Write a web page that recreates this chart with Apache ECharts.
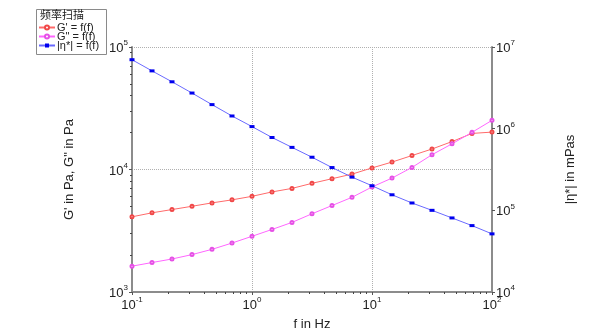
<!DOCTYPE html>
<html>
<head>
<meta charset="utf-8">
<script src="https://cdn.jsdelivr.net/npm/echarts@6/dist/echarts.min.js"></script>
<style>
  html, body { margin: 0; padding: 0; background: #fff; }
  #chart { width: 608px; height: 336px; }
</style>
</head>
<body>
<div id="chart"></div>
<script>
// frequency sweep data
const freq = [0.1, 0.1468, 0.2154, 0.3162, 0.4642, 0.6813, 1, 1.468, 2.154, 3.162,
  4.642, 6.813, 10, 14.68, 21.54, 31.62, 46.42, 68.13, 100];
const gPrime = [4110, 4430, 4710, 5010, 5340, 5650, 6040, 6560, 7010, 7710,
  8410, 9170, 10300, 11500, 13000, 14700, 16900, 19700, 20200];
const gDouble = [1625, 1740, 1860, 2020, 2230, 2510, 2850, 3240, 3700, 4350,
  5080, 5930, 7200, 8510, 10400, 13200, 16200, 20100, 25200];
const etaStar = [6.99e6, 5.1e6, 3.75e6, 2.73e6, 1.97e6, 1.43e6, 1.06e6, 7.8e5, 5.9e5, 4.47e5,
  3.34e5, 2.55e5, 2.0e5, 1.55e5, 1.23e5, 1.0e5, 8.07e4, 6.5e4, 5.15e4];

const seriesNames = ["G' = f(f)", 'G" = f(f)', "|η*| = f(f)"];
const legendTitle = "频率扫描";
const xName = "f in Hz";
const yLeftName = 'G\' in Pa, G" in Pa';
const yRightName = "|η*| in mPas";

// minor tick positions (2..9 of each decade)
const xMinor = [0.2, 0.3, 0.4, 0.5, 0.6, 0.7, 0.8, 0.9, 2, 3, 4, 5, 6, 7, 8, 9, 20, 30, 40, 50, 60, 70, 80, 90];
const yMinor = [2000, 3000, 4000, 5000, 6000, 7000, 8000, 9000, 20000, 30000, 40000, 50000, 60000, 70000, 80000, 90000];

const FONT = "Liberation Sans";

const pairs = (ys) => freq.map((f, i) => [f, ys[i]]);

// 10^n style labels
const powLabel = (v) => {
  const e = Math.round(Math.log10(v));
  return "{b|10}{s|" + e + "}";
};
const powRich = {
  b: { fontSize: 13, color: "#222", fontFamily: FONT, verticalAlign: "bottom", lineHeight: 16 },
  s: { fontSize: 8, color: "#222", fontFamily: FONT, verticalAlign: "top", lineHeight: 16 },
};

const axisGray = "#8c8c8c";
const gridLine = { show: true, lineStyle: { color: "#b0b0b0", type: "dotted", width: 1 } };

// hidden linear axes in log10 units, only used to place the minor ticks
const minorAxis = (pos, min, max, values) => ({
  type: "value", min: min, max: max, position: pos,
  axisLine: { show: false, onZero: false },
  axisTick: { show: true, length: 2, customValues: values.map(Math.log10), lineStyle: { color: "#444" } },
  axisLabel: { show: false },
  splitLine: { show: false },
});

const chart = echarts.init(document.getElementById("chart"), null, { renderer: "canvas" });

chart.setOption({
  animation: false,
  grid: { left: 132, right: 116, top: 47, bottom: 42 },
  graphic: [
    {
      type: "rect",
      shape: { x: 36.5, y: 9.5, width: 70, height: 45 },
      style: { fill: "#fff", stroke: "#8a8a8a", lineWidth: 1 },
      z: 5,
    },
    {
      type: "text",
      x: 40, y: 9,
      style: { text: legendTitle, fontSize: 11, fontFamily: "Noto Sans CJK SC", fill: "#222" },
      z: 6,
    },
  ],
  legend: {
    orient: "vertical",
    left: 38, top: 22,
    padding: 0,
    itemWidth: 16, itemHeight: 5, itemGap: -2,
    z: 10,
    textStyle: { fontSize: 11, fontFamily: FONT, color: "#222", padding: [0, 0, 0, -3] },
    data: seriesNames,
  },
  xAxis: [
    {
      type: "log", logBase: 10, min: 0.1, max: 100,
      name: xName, nameLocation: "middle", nameGap: 26,
      nameTextStyle: { fontSize: 13, fontFamily: FONT, color: "#222" },
      axisLine: { onZero: false, lineStyle: { color: axisGray, width: 2 } },
      axisTick: { show: true, length: 3, lineStyle: { color: "#555" } },
      axisLabel: { formatter: powLabel, rich: powRich, margin: 4 },
      splitLine: gridLine,
    },
    minorAxis("bottom", -1, 2, xMinor),
  ],
  yAxis: [
    {
      type: "log", logBase: 10, min: 1000, max: 100000, position: "left",
      name: yLeftName, nameLocation: "middle", nameGap: 56,
      nameTextStyle: { fontSize: 13, fontFamily: FONT, color: "#222" },
      axisLine: { show: true, onZero: false, lineStyle: { color: axisGray, width: 2 } },
      axisTick: { show: true, length: 3, lineStyle: { color: "#555" } },
      axisLabel: { formatter: powLabel, rich: powRich, margin: 4 },
      splitLine: gridLine,
    },
    {
      type: "log", logBase: 10, min: 10000, max: 10000000, position: "right",
      name: yRightName, nameLocation: "middle", nameGap: 72, nameRotate: 90,
      nameTextStyle: { fontSize: 13, fontFamily: FONT, color: "#222" },
      axisLine: { show: true, onZero: false, lineStyle: { color: axisGray, width: 2 } },
      axisTick: { show: true, length: 3, lineStyle: { color: "#555" } },
      axisLabel: { formatter: powLabel, rich: powRich, margin: 4 },
      splitLine: { show: false },
    },
    minorAxis("left", 3, 5, yMinor),
  ],
  series: [
    {
      name: seriesNames[0], type: "line", yAxisIndex: 0,
      data: pairs(gPrime),
      symbol: "emptyCircle", symbolSize: 3,
      lineStyle: { color: "#ff6a6a", width: 1 },
      itemStyle: { color: "#f04848", borderWidth: 1 },
    },
    {
      name: seriesNames[1], type: "line", yAxisIndex: 0,
      data: pairs(gDouble),
      symbol: "emptyCircle", symbolSize: 3,
      lineStyle: { color: "#ff66ff", width: 1 },
      itemStyle: { color: "#e650e6", borderWidth: 1 },
    },
    {
      name: seriesNames[2], type: "line", yAxisIndex: 1,
      data: pairs(etaStar),
      symbol: "rect", symbolSize: [5, 3],
      lineStyle: { color: "#6a6aff", width: 1 },
      itemStyle: { color: "#0000ee" },
    },
  ],
});
</script>
</body>
</html>
